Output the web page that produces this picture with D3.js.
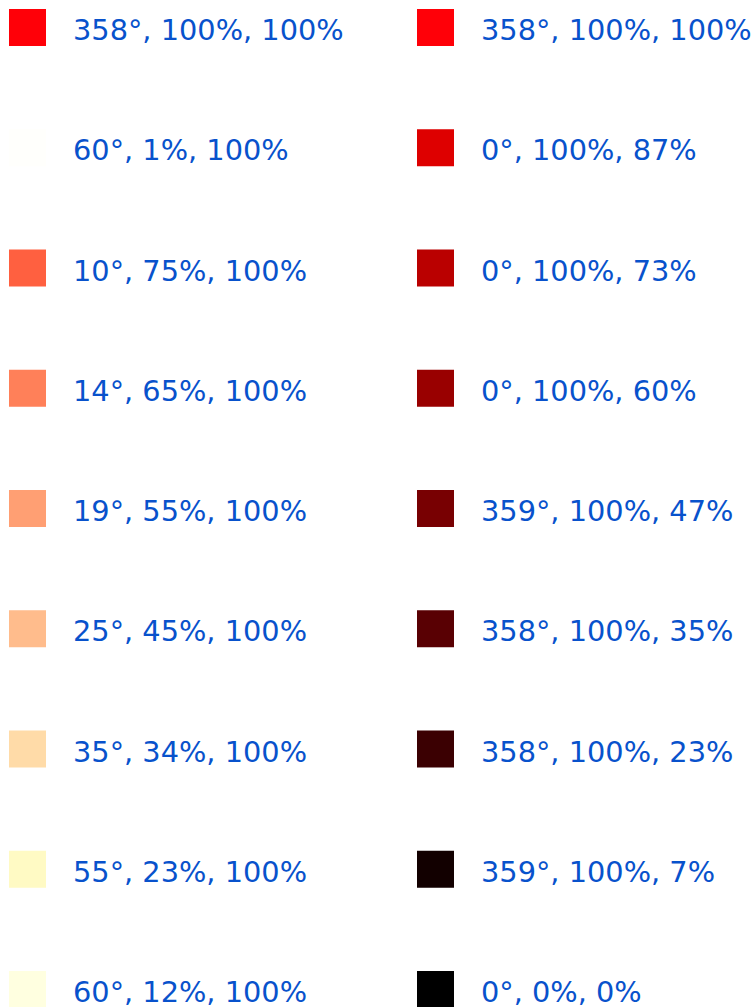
<!DOCTYPE html>
<html>
<head>
<meta charset="utf-8">
<script src="https://cdn.jsdelivr.net/npm/d3@7"></script>
<style>
  html, body { margin: 0; padding: 0; background: #fff; }
  svg { display: block; }
</style>
</head>
<body>
<svg class="swatches"></svg>
<script>
const width = 756;
const height = 1007;

// left column: hue (deg), saturation (%), value (%)
const leftHue = [358, 60, 10, 14, 19, 25, 35, 55, 60];
const leftSat = [100, 1, 75, 65, 55, 45, 34, 23, 12];
const leftVal = [100, 100, 100, 100, 100, 100, 100, 100, 100];

// right column
const rightHue = [358, 0, 0, 0, 359, 358, 358, 359, 0];
const rightSat = [100, 100, 100, 100, 100, 100, 100, 100, 0];
const rightVal = [100, 87, 73, 60, 47, 35, 23, 7, 0];

const columns = ['left', 'right'];

const hsvToRgb = (h, s, v) => {
  s = s / 100; v = v / 100;
  const f = n => {
    const k = (n + h / 60) % 6;
    return v - v * s * Math.max(0, Math.min(k, 4 - k, 1));
  };
  return d3.rgb(f(5) * 255, f(3) * 255, f(1) * 255);
};

const makeRows = (hues, sats, vals, col) => hues.map((h, i) => ({
  col: col,
  row: i,
  color: hsvToRgb(h, sats[i], vals[i]),
  label: `${h}°, ${sats[i]}%, ${vals[i]}%`
}));

const data = makeRows(leftHue, leftSat, leftVal, 'left')
  .concat(makeRows(rightHue, rightSat, rightVal, 'right'));

const svg = d3.select('.swatches')
  .attr('width', width)
  .attr('height', height);

const swatch = 37;

const xScale = d3.scalePoint()
  .domain(columns)
  .range([9, 417]);

const yScale = d3.scalePoint()
  .domain(d3.range(leftHue.length))
  .range([9, 971]);

const g = svg.selectAll('g.item').data(data).enter().append('g')
  .attr('class', 'item')
  .attr('transform', d => `translate(${xScale(d.col)},${yScale(d.row)})`);

g.append('rect')
  .attr('width', swatch)
  .attr('height', swatch)
  .attr('fill', d => d.color.formatHex());

// labels run off the bottom edge in the original too
g.append('text')
  .attr('x', 64)
  .attr('y', 31)
  .attr('font-family', 'DejaVu Sans')
  .attr('font-size', 28.8)
  .attr('fill', '#0852cc')
  .text(d => d.label);
</script>
</body>
</html>
